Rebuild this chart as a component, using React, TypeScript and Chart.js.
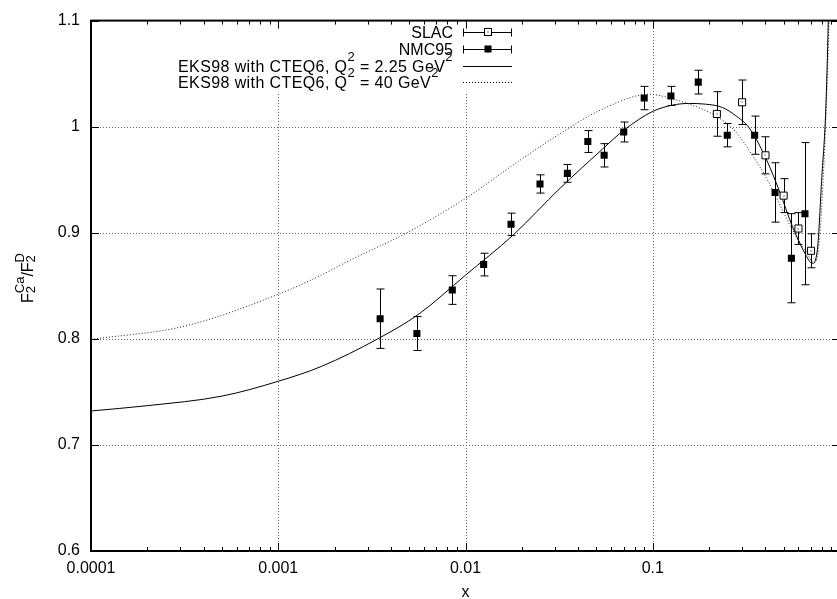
import React, { useEffect, useRef } from 'react';
import { Chart, registerables } from 'chart.js';

Chart.register(...registerables);

// ---- axis ticks ----
const xTickValues = [0.0001, 0.001, 0.01, 0.1];
const xTickLabels = ['0.0001', '0.001', '0.01', '0.1'];
const yTickValues = [0.6, 0.7, 0.8, 0.9, 1.0, 1.1];
const yTickLabels = ['0.6', '0.7', '0.8', '0.9', '1', '1.1'];

// ---- NMC95 (filled squares) ----
const nmcX = [0.0035, 0.0055, 0.0085, 0.0125, 0.0175, 0.025, 0.035, 0.045, 0.055, 0.07, 0.09, 0.125, 0.175, 0.25, 0.35, 0.45, 0.55, 0.65];
const nmcY = [0.819, 0.805, 0.846, 0.87, 0.908, 0.946, 0.956, 0.986, 0.973, 0.995, 1.027, 1.029, 1.042, 0.992, 0.992, 0.938, 0.876, 0.918];
const nmcErr = [0.028, 0.016, 0.0135, 0.0107, 0.0105, 0.0086, 0.0084, 0.0103, 0.011, 0.0094, 0.011, 0.009, 0.0112, 0.011, 0.018, 0.028, 0.042, 0.067];

// ---- SLAC (open squares) ----
const slacX = [0.22, 0.3, 0.4, 0.5, 0.6, 0.7];
const slacY = [1.012, 1.023, 0.973, 0.935, 0.904, 0.883];
const slacErr = [0.021, 0.021, 0.0175, 0.016, 0.015, 0.016];

// ---- EKS98 with CTEQ6, Q^2 = 2.25 GeV^2 (solid) ----
const eksLowX = [0.0001, 0.0002, 0.0005, 0.001, 0.0017, 0.0034, 0.0056, 0.01, 0.018, 0.032, 0.054, 0.0705, 0.1, 0.1275, 0.1567, 0.192, 0.2355, 0.2778, 0.327, 0.4, 0.473, 0.557, 0.657, 0.711, 0.757, 0.8, 0.839, 0.866, 0.89];
const eksLowY = [0.732, 0.737, 0.746, 0.76, 0.774, 0.8, 0.823, 0.86, 0.898, 0.942, 0.979, 0.997, 1.0144, 1.0203, 1.0219, 1.0212, 1.0181, 1.0103, 0.999, 0.971, 0.94, 0.906, 0.879, 0.871, 0.884, 0.953, 1.015, 1.1, 1.2];

// ---- EKS98 with CTEQ6, Q^2 = 40 GeV^2 (dotted) ----
const eksHighX = [0.0001, 0.000317, 0.001, 0.00166, 0.00246, 0.00483, 0.01, 0.0194, 0.0317, 0.0459, 0.0586, 0.078, 0.0961, 0.1176, 0.1567, 0.2085, 0.2778, 0.3405, 0.4015, 0.473, 0.557, 0.657, 0.727, 0.773, 0.822, 0.874, 0.9];
const eksHighY = [0.7995, 0.812, 0.842, 0.8593, 0.8748, 0.8997, 0.9324, 0.968, 0.993, 1.0103, 1.0196, 1.028, 1.0306, 1.028, 1.0212, 1.0119, 0.995, 0.9729, 0.9527, 0.9278, 0.9028, 0.8826, 0.8717, 0.89, 0.968, 1.1, 1.2];

const FONT_FAMILY = '"Liberation Sans", Arial, Helvetica, sans-serif';
const FONT = `16px ${FONT_FAMILY}`;
const SMALL_FONT = `13px ${FONT_FAMILY}`;

type Seg = { t: string; sup?: boolean; sub?: boolean };

function drawRich(ctx: CanvasRenderingContext2D, segs: Seg[], x: number, y: number) {
  let cx = x;
  for (const s of segs) {
    if (s.sup || s.sub) {
      ctx.font = SMALL_FONT;
      ctx.fillText(s.t, cx, s.sup ? y - 11 : y + 3);
      cx += ctx.measureText(s.t).width;
    } else {
      ctx.font = FONT;
      ctx.fillText(s.t, cx, y);
      cx += ctx.measureText(s.t).width;
    }
  }
}

const errorSets = [
  { xs: nmcX, ys: nmcY, es: nmcErr },
  { xs: slacX, ys: slacY, es: slacErr },
];

const gnuplotPlugin = {
  id: 'gnuplotFrame',
  beforeDatasetsDraw(chart: any) {
    const { ctx, chartArea: a, scales } = chart;
    const xs = scales.x;
    const ys = scales.y;
    ctx.save();
    // grid
    ctx.strokeStyle = '#666';
    ctx.lineWidth = 1;
    ctx.setLineDash([1, 2]);
    for (const v of xTickValues) {
      const px = Math.round(xs.getPixelForValue(v)) + 0.5;
      if (px <= a.left + 1 || px >= a.right - 1) continue;
      ctx.beginPath();
      ctx.moveTo(px, a.bottom);
      ctx.lineTo(px, a.top);
      ctx.stroke();
    }
    for (const v of yTickValues) {
      const py = Math.round(ys.getPixelForValue(v)) + 0.5;
      if (py <= a.top + 1 || py >= a.bottom - 1) continue;
      ctx.beginPath();
      ctx.moveTo(a.left, py);
      ctx.lineTo(a.right, py);
      ctx.stroke();
    }
    ctx.setLineDash([]);
    // key box erases grid
    ctx.fillStyle = '#fff';
    ctx.fillRect(176, a.top + 1, 340, 92 - a.top - 1);

    // error bars
    ctx.strokeStyle = '#000';
    ctx.lineWidth = 1;
    ctx.beginPath();
    ctx.rect(a.left, a.top, a.right - a.left, a.bottom - a.top);
    ctx.clip();
    for (const set of errorSets) {
      set.xs.forEach((xv, i) => {
        const px = Math.round(xs.getPixelForValue(xv)) + 0.5;
        const p1 = ys.getPixelForValue(set.ys[i] + set.es[i]);
        const p2 = ys.getPixelForValue(set.ys[i] - set.es[i]);
        ctx.beginPath();
        ctx.moveTo(px, p1);
        ctx.lineTo(px, p2);
        ctx.moveTo(px - 4, p1);
        ctx.lineTo(px + 4, p1);
        ctx.moveTo(px - 4, p2);
        ctx.lineTo(px + 4, p2);
        ctx.stroke();
      });
    }
    ctx.restore();
  },
  afterDatasetsDraw(chart: any) {
    const { ctx, chartArea: a, scales } = chart;
    const xs = scales.x;
    const ys = scales.y;
    ctx.save();
    // centre dots of the open squares
    ctx.fillStyle = '#000';
    slacX.forEach((xv, i) => {
      const px = xs.getPixelForValue(xv);
      const py = ys.getPixelForValue(slacY[i]);
      ctx.fillRect(Math.round(px) - 0.5, Math.round(py) - 0.5, 1, 1);
    });

    ctx.strokeStyle = '#000';
    ctx.lineWidth = 1;
    // ticks
    ctx.beginPath();
    for (let d = -4; d <= 0; d++) {
      for (let m = 1; m <= 9; m++) {
        const v = m * Math.pow(10, d);
        if (v < 0.0001 * 0.999 || v > 1.0001) continue;
        const px = Math.round(xs.getPixelForValue(v)) + 0.5;
        const len = m === 1 ? 8 : 4;
        ctx.moveTo(px, a.bottom);
        ctx.lineTo(px, a.bottom - len);
        ctx.moveTo(px, a.top);
        ctx.lineTo(px, a.top + len);
      }
    }
    for (const v of yTickValues) {
      const py = Math.round(ys.getPixelForValue(v)) + 0.5;
      ctx.moveTo(a.left, py);
      ctx.lineTo(a.left + 8, py);
      ctx.moveTo(a.right, py);
      ctx.lineTo(a.right - 8, py);
    }
    ctx.stroke();
    // border
    ctx.lineWidth = 2;
    ctx.strokeRect(a.left, a.top, a.right - a.left, a.bottom - a.top);

    // legend
    ctx.fillStyle = '#000';
    ctx.textBaseline = 'alphabetic';
    ctx.font = FONT;
    ctx.textAlign = 'right';
    const rows = [32, 49, 65.5, 81.5];
    ctx.fillText('SLAC', 453, rows[0] + 6);
    ctx.fillText('NMC95', 453, rows[1] + 6);
    ctx.textAlign = 'left';
    (ctx as any).letterSpacing = '0.4px';
    drawRich(ctx, [{ t: 'EKS98 with CTEQ6, Q' }, { t: '2', sup: true }, { t: ' = 2.25 GeV' }, { t: '2', sup: true }], 178, rows[2] + 6);
    drawRich(ctx, [{ t: 'EKS98 with CTEQ6, Q' }, { t: '2', sup: true }, { t: ' = 40 GeV' }, { t: '2', sup: true }], 178, rows[3] + 6);
    (ctx as any).letterSpacing = '0px';

    const sx1 = 463, sx2 = 512, smid = 488;
    ctx.lineWidth = 1;
    ctx.strokeStyle = '#000';
    for (const r of [rows[0], rows[1]]) {
      const y = Math.round(r) + 0.5;
      ctx.beginPath();
      ctx.moveTo(sx1, y);
      ctx.lineTo(sx2, y);
      ctx.moveTo(sx1 + 0.5, y - 4);
      ctx.lineTo(sx1 + 0.5, y + 4);
      ctx.moveTo(sx2 - 0.5, y - 4);
      ctx.lineTo(sx2 - 0.5, y + 4);
      ctx.stroke();
    }
    // markers
    const y0 = Math.round(rows[0]);
    ctx.fillStyle = '#fff';
    ctx.fillRect(smid - 3.5, y0 - 3.5, 7, 7);
    ctx.strokeRect(smid - 3.5, y0 - 3.5, 7, 7);
    ctx.fillStyle = '#000';
    ctx.fillRect(smid - 0.5, y0 - 0.5, 1, 1);
    const y1 = Math.round(rows[1]);
    ctx.fillRect(smid - 3.5, y1 - 3.5, 7, 7);
    // line samples
    ctx.beginPath();
    ctx.moveTo(sx1, Math.round(rows[2]) + 0.5);
    ctx.lineTo(sx2, Math.round(rows[2]) + 0.5);
    ctx.stroke();
    ctx.setLineDash([1, 2]);
    ctx.beginPath();
    ctx.moveTo(sx1, Math.round(rows[3]) + 0.5);
    ctx.lineTo(sx2, Math.round(rows[3]) + 0.5);
    ctx.stroke();
    ctx.setLineDash([]);

    // x title
    ctx.fillStyle = '#000';
    ctx.font = FONT;
    ctx.textAlign = 'center';
    ctx.fillText('x', (a.left + a.right) / 2, 597);

    // y title, rotated
    ctx.save();
    ctx.translate(33, 278);
    ctx.rotate(-Math.PI / 2);
    ctx.textAlign = 'left';
    const parts: Array<{ t: string; sub: string; sup: string }> = [
      { t: 'F', sub: '2', sup: 'Ca' },
      { t: '/F', sub: '2', sup: 'D' },
    ];
    let total = 0;
    for (const p of parts) {
      ctx.font = FONT;
      total += ctx.measureText(p.t).width;
      ctx.font = SMALL_FONT;
      total += Math.max(ctx.measureText(p.sub).width, ctx.measureText(p.sup).width);
    }
    let cx = -total / 2;
    for (const p of parts) {
      ctx.font = FONT;
      ctx.fillText(p.t, cx, 0);
      cx += ctx.measureText(p.t).width;
      ctx.font = SMALL_FONT;
      ctx.fillText(p.sub, cx, 2);
      ctx.fillText(p.sup, cx, -9);
      cx += Math.max(ctx.measureText(p.sub).width, ctx.measureText(p.sup).width);
    }
    ctx.restore();
    ctx.restore();
  },
};

export default function App() {
  const ref = useRef<HTMLCanvasElement>(null);
  useEffect(() => {
    const html = document.documentElement;
    const prev = html.style.overflow;
    html.style.overflow = 'hidden';
    const pts = (xa: number[], ya: number[]) => xa.map((x, i) => ({ x, y: ya[i] }));
    const chart = new Chart(ref.current!, {
      type: 'scatter',
      data: {
        datasets: [
          {
            label: 'NMC95',
            data: pts(nmcX, nmcY),
            pointStyle: 'rect',
            pointRadius: 5,
            borderWidth: 0,
            backgroundColor: '#000',
            borderColor: '#000',
          },
          {
            label: 'SLAC',
            data: pts(slacX, slacY),
            pointStyle: 'rect',
            pointRadius: 5,
            borderWidth: 1,
            backgroundColor: '#fff',
            borderColor: '#000',
          },
          {
            label: 'EKS98 with CTEQ6, Q^2 = 2.25 GeV^2',
            data: pts(eksLowX, eksLowY),
            showLine: true,
            pointRadius: 0,
            borderWidth: 1,
            borderColor: '#000',
            cubicInterpolationMode: 'monotone',
          },
          {
            label: 'EKS98 with CTEQ6, Q^2 = 40 GeV^2',
            data: pts(eksHighX, eksHighY),
            showLine: true,
            pointRadius: 0,
            borderWidth: 1,
            borderColor: '#222',
            borderDash: [1, 2],
            cubicInterpolationMode: 'monotone',
          },
        ] as any,
      },
      options: {
        animation: false,
        responsive: false,
        maintainAspectRatio: false,
        events: [],
        layout: { padding: { left: 0, top: 16, right: 11, bottom: 0 } },
        plugins: { legend: { display: false }, tooltip: { enabled: false }, title: { display: false } },
        scales: {
          x: {
            type: 'logarithmic',
            min: 0.0001,
            max: 1,
            position: 'bottom',
            grid: { display: false, drawTicks: false },
            border: { display: false },
            afterBuildTicks: (s: any) => {
              s.ticks = xTickValues.map((v) => ({ value: v }));
            },
            afterFit: (s: any) => {
              s.height = 48;
            },
            ticks: {
              autoSkip: false,
              maxRotation: 0,
              padding: 8,
              color: '#000',
              font: { family: FONT_FAMILY, size: 16 },
              callback: (_v: any, i: number) => xTickLabels[i],
            },
          },
          y: {
            type: 'linear',
            min: 0.6,
            max: 1.1,
            grid: { display: false, drawTicks: false },
            border: { display: false },
            afterBuildTicks: (s: any) => {
              s.ticks = yTickValues.map((v) => ({ value: v }));
            },
            afterFit: (s: any) => {
              s.width = 91;
            },
            ticks: {
              padding: 11,
              color: '#000',
              font: { family: FONT_FAMILY, size: 16 },
              callback: (_v: any, i: number) => yTickLabels[i],
            },
          },
        },
      } as any,
      plugins: [gnuplotPlugin],
    });
    return () => {
      chart.destroy();
      html.style.overflow = prev;
    };
  }, []);
  return (
    <div style={{ position: 'fixed', left: 0, top: 0, width: 851, height: 599, background: '#fff' }}>
      <canvas ref={ref} width={851} height={599} style={{ display: 'block', width: 851, height: 599 }} />
    </div>
  );
}
